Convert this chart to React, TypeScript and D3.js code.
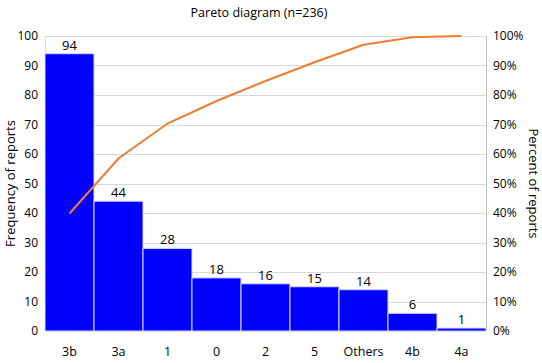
import { useEffect, useRef } from 'react';
import * as d3 from 'd3';

const categories = ['3b', '3a', '1', '0', '2', '5', 'Others', '4b', '4a'];
const counts = [94, 44, 28, 18, 16, 15, 14, 6, 1];
const leftTicks = [0, 10, 20, 30, 40, 50, 60, 70, 80, 90, 100];
const rightTicks = [0, 0.1, 0.2, 0.3, 0.4, 0.5, 0.6, 0.7, 0.8, 0.9, 1];

const W = 542;
const H = 363;
const FONT = '"Open Sans", "Noto Sans", sans-serif';

function App() {
  const svgRef = useRef<SVGSVGElement>(null);

  useEffect(() => {
    const svg = d3.select(svgRef.current);
    svg.selectAll('*').remove();

    const m = { left: 45, right: 56, top: 36, bottom: 32 };
    const innerW = W - m.left - m.right;
    const innerH = H - m.top - m.bottom;

    const total = d3.sum(counts);
    let run = 0;
    const cumulative = counts.map((c) => {
      run += c;
      return run / total;
    });

    const x = d3.scaleBand().domain(categories).range([0, innerW]).padding(0);
    const y = d3.scaleLinear().domain([0, 100]).range([innerH, 0]);
    const yp = d3.scaleLinear().domain([0, 1]).range([innerH, 0]);

    const g = svg.append('g').attr('transform', `translate(${m.left},${m.top})`);

    // gridlines
    g.selectAll('line.grid')
      .data(leftTicks)
      .enter()
      .append('line')
      .attr('x1', 0)
      .attr('x2', innerW)
      .attr('y1', (d) => Math.round(y(d)) + 0.5)
      .attr('y2', (d) => Math.round(y(d)) + 0.5)
      .attr('stroke', '#d9d9d9')
      .attr('stroke-width', 1);

    // frame left + right
    g.append('line')
      .attr('x1', 0.5).attr('x2', 0.5)
      .attr('y1', 0).attr('y2', innerH)
      .attr('stroke', '#d9d9d9');
    g.append('line')
      .attr('x1', innerW + 0.5).attr('x2', innerW + 0.5)
      .attr('y1', 0).attr('y2', innerH)
      .attr('stroke', '#bfbfbf');

    // bars
    g.selectAll('rect.bar')
      .data(counts)
      .enter()
      .append('rect')
      .attr('x', (d, i) => x(categories[i])!)
      .attr('y', (d) => y(d))
      .attr('width', x.bandwidth())
      .attr('height', (d) => innerH - y(d))
      .attr('fill', '#0000ff')
      .attr('stroke', '#d8d8ff')
      .attr('stroke-width', 1);

    // bar labels
    g.selectAll('text.lbl')
      .data(counts)
      .enter()
      .append('text')
      .attr('x', (d, i) => x(categories[i])! + x.bandwidth() / 2)
      .attr('y', (d) => y(d) - 4)
      .attr('text-anchor', 'middle')
      .attr('font-family', FONT)
      .attr('font-size', 13)
      .attr('fill', '#000')
      .text((d) => d);

    // cumulative line
    const line = d3.line<number>()
      .x((d, i) => x(categories[i])! + x.bandwidth() / 2)
      .y((d) => yp(d));
    g.append('path')
      .datum(cumulative)
      .attr('d', line)
      .attr('fill', 'none')
      .attr('stroke', '#ed7d31')
      .attr('stroke-width', 2);

    // left ticks
    g.selectAll('text.yl')
      .data(leftTicks)
      .enter()
      .append('text')
      .attr('x', -7)
      .attr('y', (d) => y(d))
      .attr('dy', '0.35em')
      .attr('text-anchor', 'end')
      .attr('font-family', FONT)
      .attr('font-size', 12)
      .attr('fill', '#000')
      .text((d) => d);

    // right ticks
    g.selectAll('text.yr')
      .data(rightTicks)
      .enter()
      .append('text')
      .attr('x', innerW + 7)
      .attr('y', (d) => yp(d))
      .attr('dy', '0.35em')
      .attr('text-anchor', 'start')
      .attr('font-family', FONT)
      .attr('font-size', 12)
      .attr('fill', '#000')
      .text((d) => d3.format('.0%')(d));

    // category labels
    g.selectAll('text.xl')
      .data(categories)
      .enter()
      .append('text')
      .attr('x', (d) => x(d)! + x.bandwidth() / 2)
      .attr('y', innerH + 25)
      .attr('text-anchor', 'middle')
      .attr('font-family', FONT)
      .attr('font-size', 12.5)
      .attr('fill', '#000')
      .text((d) => d);

    // title
    svg.append('text')
      .attr('x', 259)
      .attr('y', 17)
      .attr('text-anchor', 'middle')
      .attr('font-family', FONT)
      .attr('font-size', 12.5)
      .attr('fill', '#000')
      .text('Pareto diagram (n=236)');

    // axis titles
    svg.append('text')
      .attr('transform', `translate(15,${m.top + innerH / 2}) rotate(-90)`)
      .attr('text-anchor', 'middle')
      .attr('font-family', FONT)
      .attr('font-size', 13)
      .attr('fill', '#000')
      .text('Frequency of reports');
    svg.append('text')
      .attr('transform', `translate(529,${m.top + innerH / 2}) rotate(90)`)
      .attr('text-anchor', 'middle')
      .attr('font-family', FONT)
      .attr('font-size', 13)
      .attr('fill', '#000')
      .text('Percent of reports');
  }, []);

  return (
    <div style={{ position: 'absolute', left: 0, top: 0, width: W, height: H, background: '#fff' }}>
      <svg ref={svgRef} width={W} height={H}></svg>
    </div>
  );
}

export default App;
